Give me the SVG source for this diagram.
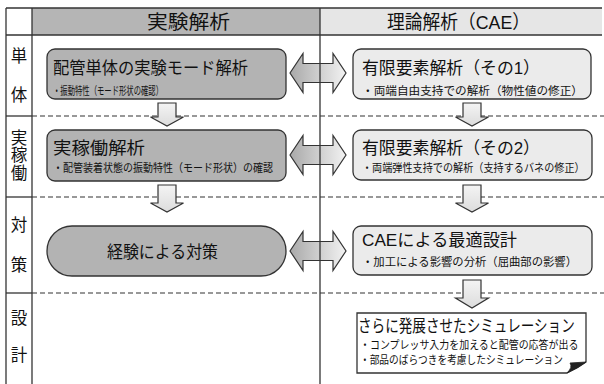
<svg xmlns="http://www.w3.org/2000/svg" width="604" height="384" viewBox="0 0 604 384">
<defs>
<linearGradient id="dg" x1="0" y1="0" x2="1" y2="0">
<stop offset="0" stop-color="#a9a9a9"/>
<stop offset="1" stop-color="#f2f2f2"/>
</linearGradient>
<linearGradient id="vg" x1="0" y1="0" x2="0" y2="1">
<stop offset="0" stop-color="#f4f4f4"/>
<stop offset="1" stop-color="#dcdcdc"/>
</linearGradient>
</defs>
<style>
text{font-family:"Liberation Sans","Noto Sans CJK JP",sans-serif;fill:#111}
.tl{stroke:#333;stroke-width:1.3;fill:none}
.dash{stroke:#333;stroke-width:1.1;stroke-dasharray:5 3;fill:none}
.bx{stroke:#333;stroke-width:1.3}
.dk{fill:#b3b3b3}
.lt{fill:#ebebeb}
.dbl{fill:url(#dg);stroke:#333;stroke-width:1.2}
.dn{fill:url(#vg);stroke:#333;stroke-width:1.2}
.h{font-size:19px}
.r{font-size:16.5px;text-anchor:middle}
.t{font-size:17px}
.s{font-size:11.5px}
</style>
<g id="table">
<rect x="32" y="8" width="288" height="27" fill="#b5b5b5"/>
<rect x="320" y="8" width="282" height="27" fill="#e6e6e6"/>
<line class="tl" x1="6" y1="8" x2="602" y2="8"/>
<line class="tl" x1="6" y1="35" x2="602" y2="35"/>
<line class="tl" x1="6" y1="8" x2="6" y2="384"/>
<line class="tl" x1="32" y1="8" x2="32" y2="384"/>
<line class="tl" x1="6" y1="116" x2="32" y2="116"/>
<line class="tl" x1="6" y1="197" x2="32" y2="197"/>
<line class="tl" x1="6" y1="293" x2="32" y2="293"/>
<line class="dash" x1="32" y1="116" x2="604" y2="116"/>
<line class="dash" x1="32" y1="197" x2="604" y2="197"/>
<line class="dash" x1="32" y1="293" x2="604" y2="293"/>
<text class="h" x="147" y="29" textLength="83" lengthAdjust="spacingAndGlyphs">実験解析</text>
<text class="h" x="387" y="29" textLength="143" lengthAdjust="spacingAndGlyphs">理論解析（CAE）</text>
<text class="r" x="19" y="62">単</text>
<text class="r" x="19" y="101">体</text>
<text class="r" x="19" y="144">実</text>
<text class="r" x="19" y="161">稼</text>
<text class="r" x="19" y="179">働</text>
<text class="r" x="19" y="231">対</text>
<text class="r" x="19" y="271">策</text>
<text class="r" x="19" y="324">設</text>
<text class="r" x="19" y="361">計</text>
</g>
<g id="connectors">
<path class="dbl" d="M290,73 L303,53.5 L303,63.5 L333,63.5 L333,53.5 L346,73 L333,92.5 L333,82.5 L303,82.5 L303,92.5 Z"/>
<path class="dbl" d="M290,155 L303,135.5 L303,145.5 L333,145.5 L333,135.5 L346,155 L333,174.5 L333,164.5 L303,164.5 L303,174.5 Z"/>
<path class="dbl" d="M290,251 L303,231.5 L303,241.5 L333,241.5 L333,231.5 L346,251 L333,270.5 L333,260.5 L303,260.5 L303,270.5 Z"/>
<path class="dn" d="M158,103 L176,103 L176,117 L183.5,117 L167,126 L150.5,117 L158,117 Z"/>
<path class="dn" d="M463,103 L481,103 L481,117 L488.5,117 L472,126 L455.5,117 L463,117 Z"/>
<path class="dn" d="M158,185 L176,185 L176,203 L183.5,203 L167,212 L150.5,203 L158,203 Z"/>
<path class="dn" d="M463,185 L481,185 L481,203 L488.5,203 L472,212 L455.5,203 L463,203 Z"/>
<path class="dn" d="M463,280 L481,280 L481,298 L488.5,298 L472,308 L455.5,298 L463,298 Z"/>
</g>
<line class="tl" x1="320" y1="8" x2="320" y2="384"/>
<g id="n1">
<rect class="bx dk" x="47" y="49" width="239" height="50" rx="8"/>
<text class="t" x="53" y="74" textLength="195" lengthAdjust="spacingAndGlyphs">配管単体の実験モード解析</text>
<text class="s" x="53" y="95" textLength="110" lengthAdjust="spacingAndGlyphs">・振動特性（モード形状の確認）</text>
</g>
<g id="n2">
<rect class="bx lt" x="353" y="49" width="238" height="50" rx="8"/>
<text class="t" x="362" y="74" textLength="178" lengthAdjust="spacingAndGlyphs">有限要素解析（その1）</text>
<text class="s" x="362" y="95" textLength="221" lengthAdjust="spacingAndGlyphs">・両端自由支持での解析（物性値の修正）</text>
</g>
<g id="n3">
<rect class="bx dk" x="47" y="130" width="239" height="51" rx="8"/>
<text class="t" x="53" y="154" textLength="92" lengthAdjust="spacingAndGlyphs">実稼働解析</text>
<text class="s" x="53" y="172" textLength="220" lengthAdjust="spacingAndGlyphs">・配管装着状態の振動特性（モード形状）の確認</text>
</g>
<g id="n4">
<rect class="bx lt" x="353" y="130" width="239" height="50" rx="8"/>
<text class="t" x="362" y="154" textLength="178" lengthAdjust="spacingAndGlyphs">有限要素解析（その2）</text>
<text class="s" transform="translate(362,172) scale(0.881,1)">・両端弾性支持での解析（支持するバネの修正）</text>
</g>
<g id="n5">
<rect class="bx dk" x="47" y="226" width="239" height="50" rx="25"/>
<text class="t" x="107" y="258" textLength="111" lengthAdjust="spacingAndGlyphs">経験による対策</text>
</g>
<g id="n6">
<rect class="bx lt" x="353" y="226" width="239" height="49" rx="8"/>
<text class="t" x="362" y="246" textLength="155" lengthAdjust="spacingAndGlyphs">CAEによる最適設計</text>
<text class="s" x="362" y="266" textLength="215" lengthAdjust="spacingAndGlyphs">・加工による影響の分析（屈曲部の影響）</text>
</g>
<g id="n7">
<path class="bx" fill="#fff" d="M357,313 L586,313 L586,362 Q578,368 567,373 L357,373 Z"/>
<path fill="#222" stroke="#222" stroke-width="0.8" d="M567,373 Q573,367 570,363 L586,362 Q578,368 567,373 Z"/>
<text class="t" transform="translate(358,332) scale(0.80,1)">さらに発展させたシミュレーション</text>
<text class="s" transform="translate(360,349) scale(0.866,1)">・コンプレッサ入力を加えると配管の応答が出る</text>
<text class="s" x="360" y="364" textLength="203" lengthAdjust="spacingAndGlyphs">・部品のばらつきを考慮したシミュレーション</text>
</g>
</svg>
